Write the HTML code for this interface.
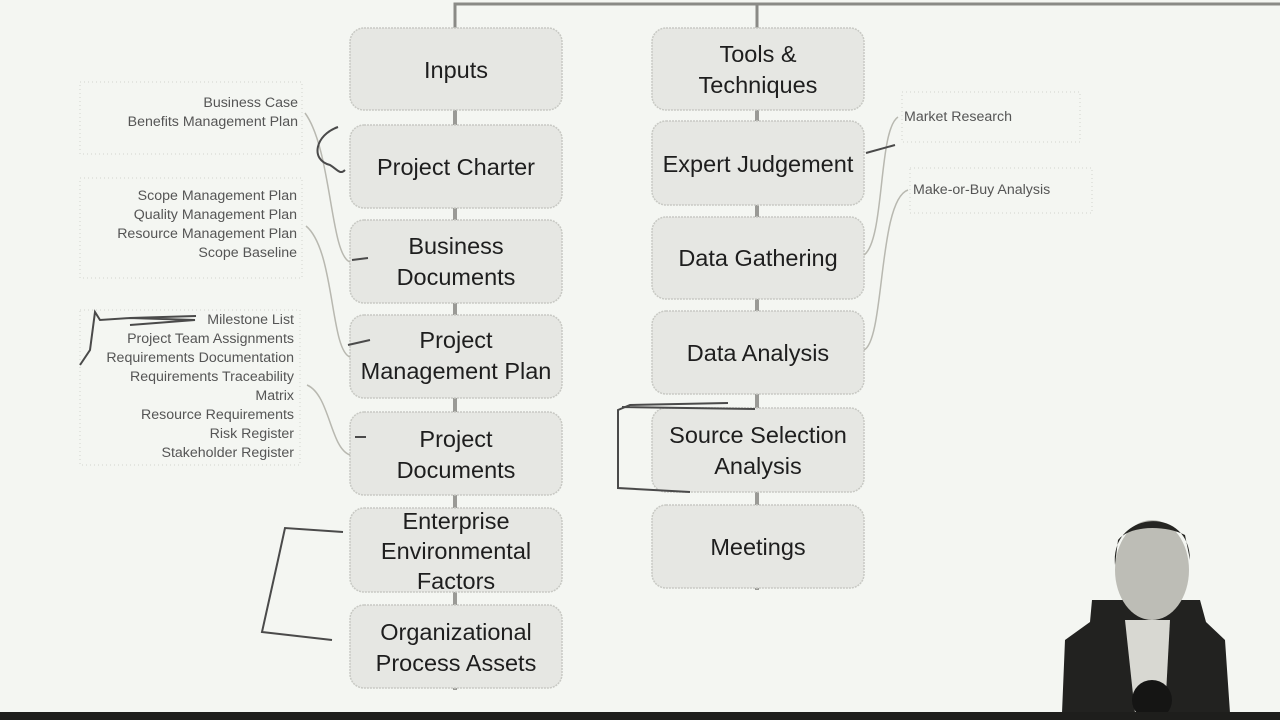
<!DOCTYPE html>
<html><head><meta charset="utf-8"><style>
html,body{margin:0;padding:0;background:#f4f6f2;}
svg{display:block;font-family:"Liberation Sans",sans-serif;}
.b{fill:#e6e7e3;stroke:#c8c9c4;stroke-width:1.5;stroke-dasharray:2 1;}
.t{font-size:23.5px;fill:#1e1e1e;text-anchor:middle;}
.s{font-size:14.2px;fill:#555;text-anchor:end;}
.s2{font-size:14.2px;fill:#555;}
.c{fill:none;stroke:#b8b8b0;stroke-width:1.5;}
.ink{fill:none;stroke:#4a4a4a;stroke-width:2;}
.d{fill:none;stroke:#d2d4ce;stroke-width:1;stroke-dasharray:1 3;}
</style></head><body>
<svg width="1280" height="720" viewBox="0 0 1280 720">
<rect width="1280" height="720" fill="#f4f6f2"/>
<path d="M455 28 V4 H1280 M757 4 V28" fill="none" stroke="#8a8a86" stroke-width="3"/>
<path d="M455 110 V690 M757 110 V590" stroke="#9a9a96" stroke-width="4"/>
<rect class="b" x="350" y="28" width="212" height="82" rx="14"/>
<rect class="b" x="350" y="125" width="212" height="83" rx="14"/>
<rect class="b" x="350" y="220" width="212" height="83" rx="14"/>
<rect class="b" x="350" y="315" width="212" height="83" rx="14"/>
<rect class="b" x="350" y="412" width="212" height="83" rx="14"/>
<rect class="b" x="350" y="508" width="212" height="84" rx="14"/>
<rect class="b" x="350" y="605" width="212" height="83" rx="14"/>
<text class="t" x="456" y="78">Inputs</text>
<text class="t" x="456" y="175">Project Charter</text>
<text class="t" x="456" y="254">Business</text><text class="t" x="456" y="285">Documents</text>
<text class="t" x="456" y="348">Project</text><text class="t" x="456" y="379">Management Plan</text>
<text class="t" x="456" y="447">Project</text><text class="t" x="456" y="478">Documents</text>
<text class="t" x="456" y="529">Enterprise</text><text class="t" x="456" y="559">Environmental</text><text class="t" x="456" y="589">Factors</text>
<text class="t" x="456" y="640">Organizational</text><text class="t" x="456" y="671">Process Assets</text>
<rect class="b" x="652" y="28" width="212" height="82" rx="14"/>
<rect class="b" x="652" y="121" width="212" height="84" rx="14"/>
<rect class="b" x="652" y="217" width="212" height="82" rx="14"/>
<rect class="b" x="652" y="311" width="212" height="83" rx="14"/>
<rect class="b" x="652" y="408" width="212" height="84" rx="14"/>
<rect class="b" x="652" y="505" width="212" height="83" rx="14"/>
<text class="t" x="758" y="62">Tools &amp;</text><text class="t" x="758" y="93">Techniques</text>
<text class="t" x="758" y="172">Expert Judgement</text>
<text class="t" x="758" y="266">Data Gathering</text>
<text class="t" x="758" y="361">Data Analysis</text>
<text class="t" x="758" y="443">Source Selection</text><text class="t" x="758" y="474">Analysis</text>
<text class="t" x="758" y="555">Meetings</text>
<rect class="d" x="80" y="82" width="222" height="72"/>
<text class="s" x="298" y="107">Business Case</text>
<text class="s" x="298" y="126">Benefits Management Plan</text>
<rect class="d" x="80" y="178" width="222" height="100"/>
<text class="s" x="297" y="200">Scope Management Plan</text>
<text class="s" x="297" y="219">Quality Management Plan</text>
<text class="s" x="297" y="238">Resource Management Plan</text>
<text class="s" x="297" y="257">Scope Baseline</text>
<rect class="d" x="80" y="310" width="220" height="155"/>
<text class="s" x="294" y="324">Milestone List</text>
<text class="s" x="294" y="343">Project Team Assignments</text>
<text class="s" x="294" y="362">Requirements Documentation</text>
<text class="s" x="294" y="381">Requirements Traceability</text>
<text class="s" x="294" y="400">Matrix</text>
<text class="s" x="294" y="419">Resource Requirements</text>
<text class="s" x="294" y="438">Risk Register</text>
<text class="s" x="294" y="457">Stakeholder Register</text>
<rect class="d" x="902" y="92" width="178" height="50"/>
<text class="s2" x="904" y="121">Market Research</text>
<rect class="d" x="910" y="168" width="182" height="45"/>
<text class="s2" x="913" y="194">Make-or-Buy Analysis</text>
<path class="c" d="M350 262 C330 255 332 150 305 113"/>
<path class="c" d="M350 357 C330 350 335 250 306 226"/>
<path class="c" d="M350 455 C330 448 330 395 307 385"/>
<path class="c" d="M864 255 C885 240 878 130 898 117"/>
<path class="c" d="M864 350 C885 340 878 200 908 190"/>
<path class="ink" d="M338 127 C315 135 310 160 330 165 C338 170 340 175 345 170"/>
<path class="ink" d="M352 260 L368 258 M348 345 L370 340 M355 437 L366 437"/>
<path class="ink" d="M196 316 L130 318 L195 320 L130 325 M130 318 L100 320 L95 312 L90 350 L80 365"/>
<path class="ink" d="M866 153 L895 145" stroke-width="4"/>
<path class="ink" d="M728 403 L630 405 L618 410 L618 488 L690 492 M622 407 L755 409"/>
<path class="ink" d="M343 532 L285 528 L278 560 L262 632 L332 640"/>
<path d="M1062 713 L1065 640 L1090 622 L1092 600 L1200 600 L1206 622 L1225 640 L1230 713 Z" fill="#222220"/>
<path d="M1125 620 L1170 620 L1165 713 L1135 713 Z" fill="#d8d8d2"/>
<ellipse cx="1152" cy="570" rx="37" ry="50" fill="#bdbdb6"/>
<path d="M1115 565 C1110 510 1190 505 1190 560 L1185 535 C1165 525 1130 525 1118 540 Z" fill="#252522"/>
<ellipse cx="1152" cy="700" rx="20" ry="20" fill="#151514"/>
<rect x="0" y="712" width="1280" height="8" fill="#1e1e1c"/>
</svg>
</body></html>
